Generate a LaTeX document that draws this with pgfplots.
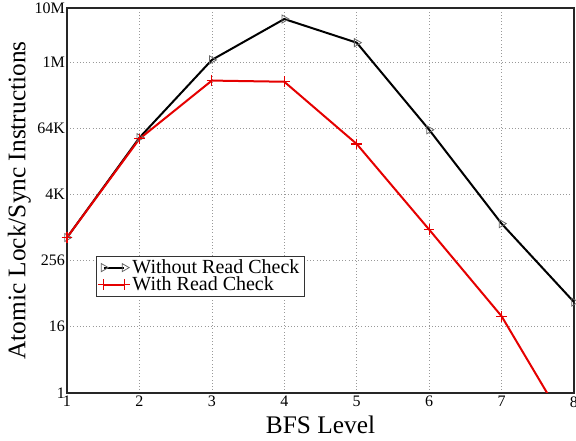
\documentclass[border=0pt]{standalone}
\usepackage{pgfplots}
\pgfplotsset{compat=1.18}
\usepackage{fontspec}
\setmainfont{Liberation Serif}
\begin{document}
\begin{tikzpicture}
\begin{axis}[
  at={(50.25pt,36pt)}, anchor=origin,
  scale only axis, width=380.25pt, height=288.75pt,
  xmin=1, xmax=8, xtick={1,...,8},
  ymode=log, log basis y=2,
  ymin=1, ymax=10000000,
  ytick={1,16,256,4096,65536,1048576,10000000},
  yticklabels={1,16,256,4K,64K,1M,10M},
  /pgf/number format/assume math mode=true,
  tick label style={font=\fontsize{12}{14}\selectfont},
  xticklabel style={yshift=1pt},
  yticklabel style={xshift=2pt},
  major tick length=0pt,
  grid=major,
  major grid style={gray!80, dotted, line width=0.5pt},
  axis line style={line width=1pt, black!85},
  xlabel={BFS Level}, ylabel={Atomic Lock/Sync Instructions},
  label style={font=\fontsize{19}{22}\selectfont},
  xlabel style={yshift=0pt},
  ylabel style={yshift=-4pt},
  legend style={at={(0.057,0.356)}, anchor=north west, draw=black!80, line width=0.6pt,
    font=\fontsize{15}{15}\selectfont, row sep=-1pt, inner sep=1.5pt,
    nodes={inner ysep=1pt}},
  legend cell align=left,
  legend image code/.code={\draw[#1] plot coordinates {(0cm,0cm) (0.55cm,0cm)};},
  clip=true,
]
\addplot[black, line width=1.5pt, mark=triangle, mark size=3.5pt,
  mark options={rotate=-90, fill=white, draw=gray!80!black, line width=0.6pt, solid}]
  coordinates {(1,671) (2,43800) (3,1138000) (4,6300000) (5,2340000) (6,61100) (7,1201) (8,45)};
\addlegendentry{Without Read Check}
\addplot[red!90!black, line width=1.5pt, mark=+, mark size=4pt,
  mark options={line width=0.8pt, solid}]
  coordinates {(1,671) (2,41700) (3,479000) (4,456000) (5,33700) (6,936) (7,24.9) (8,0.15)};
\addlegendentry{With Read Check}
\end{axis}
\pgfresetboundingbox
\path[use as bounding box] (0,0) rectangle (432pt,330.75pt);
\end{tikzpicture}
\end{document}
